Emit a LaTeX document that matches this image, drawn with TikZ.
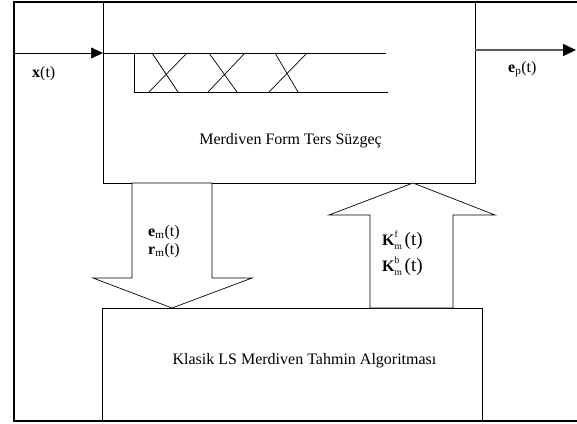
\documentclass[tikz,border=0pt]{standalone}
\usepackage{fontspec}
\setmainfont{Liberation Serif}
\usetikzlibrary{arrows.meta}
\newcommand{\supsub}[2]{\rlap{\raisebox{7.5pt}{\fontsize{9.5}{10}\selectfont #1}}\raisebox{-4.5pt}{\fontsize{9.5}{10}\selectfont #2}}
\begin{document}
\begin{tikzpicture}[x=1pt,y=-1pt,
  boxnode/.style={draw, line width=0.8pt, inner sep=0pt, anchor=north west},
  lbl/.style={font=\fontsize{16}{19}\selectfont, inner sep=0pt, anchor=base west},
  big/.style={font=\fontsize{16}{19}\selectfont, inner sep=0pt},
  thin/.style={line width=0.7pt},
  blockarrow/.style={draw, line width=0.7pt, fill=white}]
\useasboundingbox (0,0) rectangle (577,423);
% outer frame
\draw[line width=2pt] (577,2) -- (14,2) -- (14,421) -- (577,421);
% boxes
\node[boxnode, minimum width=372pt, minimum height=181pt] (filt) at (103,2) {};
\node[boxnode, minimum width=380pt, minimum height=112pt] (alg) at (102,308) {};
\node[big] (filtlbl) at (290.5,141) {Merdiven Form Ters Süzgeç};
\node[big] (alglbl) at (304.5,361) {Klasik LS Merdiven Tahmin Algoritması};
% input / output
\coordinate (xin) at (14,53);
\coordinate (fin) at (103,53);
\draw[thin, -{Triangle[length=12pt,width=11pt]}] (xin) -- (fin);
\node[lbl] (xlbl) at (32,77) {\textbf{x}(t)};
\coordinate (fout) at (475,50);
\coordinate (eout) at (576,50);
\draw[line width=1.3pt, black!65, -{Triangle[length=13pt,width=12pt,color=black]}] (fout) -- (eout);
\node[lbl] (elbl) at (508,72) {\textbf{e}\textsubscript{p}(t)};
% delay line
\coordinate (dl1) at (134,53);
\coordinate (dl2) at (386,53);
\coordinate (dl3) at (134,92);
\coordinate (dl4) at (388,92);
\draw[thin] (fin) -- (dl2);
\draw[thin] (dl1) -- (dl3) -- (dl4);
\draw[thin] (152,53) -- (178,92) (187,53) -- (149,92);
\draw[thin] (209,53) -- (237,92) (245,53) -- (208,92);
\draw[thin] (275,53) -- (298,92) (307,53) -- (269,92);
% down block arrow
\draw[blockarrow] (132,183) -- (212,183) -- (212,278) -- (252,278) -- (172,308) -- (93,278) -- (132,278) -- cycle;
\node[lbl] (em) at (148,236) {\textbf{e}\textsubscript{m}(t)};
\node[lbl] (rm) at (148,254) {\textbf{r}\textsubscript{m}(t)};
% up block arrow
\draw[blockarrow] (370,308) -- (453,308) -- (453,215) -- (495,215) -- (413,183) -- (329,215) -- (370,215) -- cycle;
\node[lbl] (kf) at (382,245) {\textbf{K}\supsub{f}{m}\,{\fontsize{19}{19}\selectfont(t)}};
\node[lbl] (kb) at (382,271) {\textbf{K}\supsub{b}{m}\,{\fontsize{19}{19}\selectfont(t)}};
\end{tikzpicture}
\end{document}
